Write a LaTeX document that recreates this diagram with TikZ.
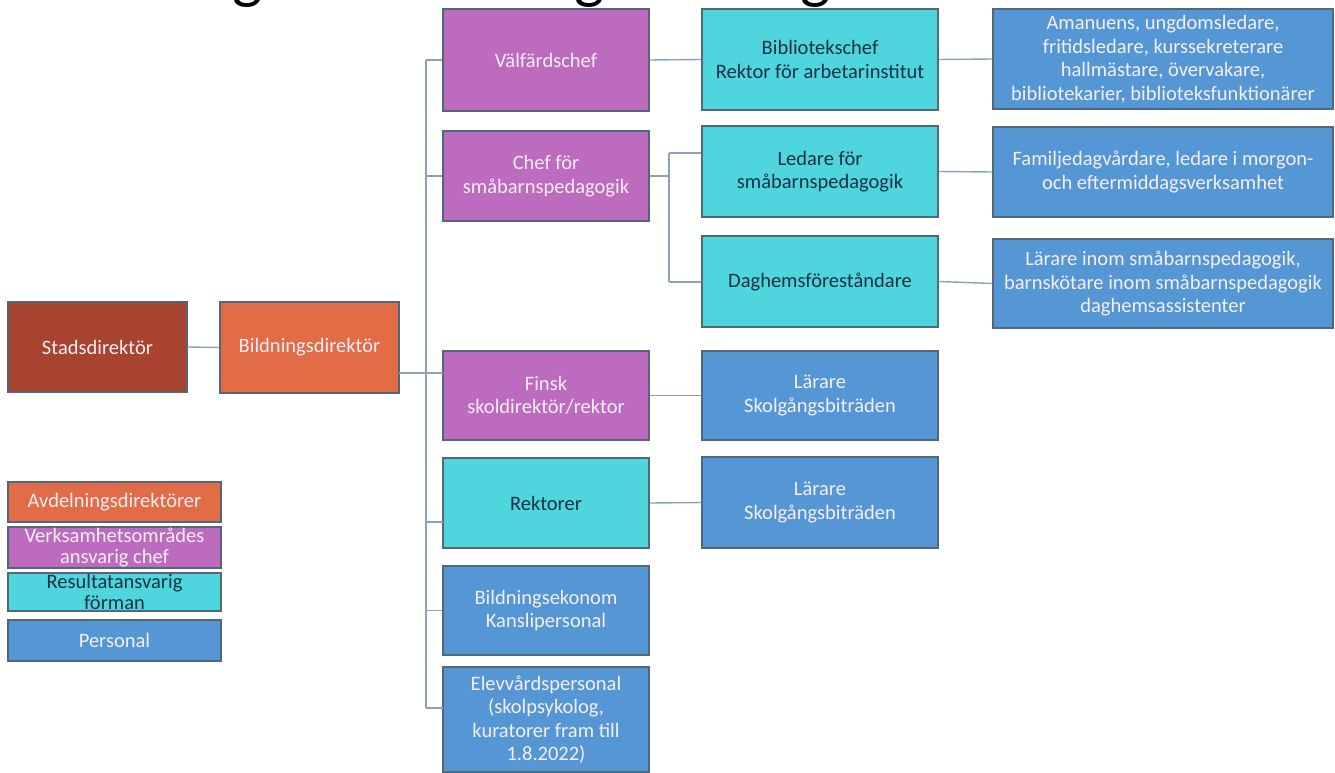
\documentclass[tikz,border=0pt]{standalone}
\usepackage{fontspec}
\setmainfont{Carlito}
\definecolor{cRed}{HTML}{A8432F}
\definecolor{cOrange}{HTML}{E26C45}
\definecolor{cPurple}{HTML}{BD6BBF}
\definecolor{cCyan}{HTML}{4ED5DD}
\definecolor{cBlue}{HTML}{5497D4}
\definecolor{cBorder}{HTML}{53677A}
\definecolor{cLine}{HTML}{8AA3B8}
\definecolor{cLight}{HTML}{F6EEF6}
\definecolor{cDark}{HTML}{1A3142}
\begin{document}
\begin{tikzpicture}[x=1pt,y=-1pt,
  box/.style={draw=cBorder, line width=1.1pt, inner sep=0pt, align=center,
    font=\fontsize{20.5pt}{23.5pt}\selectfont},
  legbox/.style={box, minimum width=213pt, font=\fontsize{20.5pt}{21pt}\selectfont},
  redbox/.style={box, fill=cRed, text=cLight},
  orangebox/.style={box, fill=cOrange, text=cLight},
  purplebox/.style={box, fill=cPurple, text=cLight},
  cyanbox/.style={box, fill=cCyan, text=cDark},
  bluebox/.style={box, fill=cBlue, text=cLight},
  midcol/.style={minimum width=206pt},
  subcol/.style={minimum width=236pt},
  rightcol/.style={minimum width=340pt},
  conn/.style={draw=cLine, line width=1.4pt},
  titlefont/.style={font=\fontsize{64pt}{70pt}\selectfont, inner sep=0pt, text=black}]
\path[use as bounding box, fill=white] (0,0) rectangle (1335,773);
\clip (0,0) rectangle (1335,773);

% cut-off title glyphs
\node[titlefont, anchor=south] (t1) at (248,8) {g};
\node[titlefont, anchor=south] (t2) at (590,8) {g};
\node[titlefont, anchor=south] (t3) at (816,8) {g};

% left
\node[redbox, minimum width=179pt, minimum height=90pt] (stad) at (97.5,347) {Stadsdirektör};
\node[orangebox, minimum width=179pt, minimum height=91pt] (bild) at (309.5,347.5) {Bildningsdirektör};

% middle column
\node[purplebox, midcol, minimum height=102pt] (valf) at (546,60) {Välfärdschef};
\node[purplebox, midcol, minimum height=90pt] (chef) at (546,176) {Chef för\\småbarnspedagogik};
\node[purplebox, midcol, minimum height=89pt] (finsk) at (546,395.5) {Finsk\\skoldirektör/rektor};
\node[cyanbox, midcol, minimum height=90pt] (rekt) at (546,503) {Rektorer};
\node[bluebox, midcol, minimum height=89pt] (ekon) at (546,610.5) {Bildningsekonom\\Kanslipersonal};
\node[bluebox, midcol, minimum height=105pt] (elev) at (546,719.5) {Elevvårdspersonal\\(skolpsykolog,\\kuratorer fram till\\1.8.2022)};

% sub column
\node[cyanbox, subcol, minimum height=101pt] (bibl) at (820,59.5) {Bibliotekschef\\Rektor för arbetarinstitut};
\node[cyanbox, subcol, minimum height=91pt] (ledare) at (820,171.5) {Ledare för\\småbarnspedagogik};
\node[cyanbox, subcol, minimum height=91pt] (dagh) at (820,281.5) {Daghemsföreståndare};
\node[bluebox, subcol, minimum height=89pt] (lar1) at (820,395.5) {Lärare\\Skolgångsbiträden};
\node[bluebox, subcol, minimum height=91pt] (lar2) at (820,502.5) {Lärare\\Skolgångsbiträden};

% right column
\node[bluebox, rightcol, minimum height=100pt] (aman) at (1163,59) {Amanuens, ungdomsledare,\\fritidsledare, kurssekreterare\\hallmästare, övervakare,\\bibliotekarier, biblioteksfunktionärer};
\node[bluebox, rightcol, minimum height=90pt] (famil) at (1163,172) {Familjedagvårdare, ledare i morgon-\\och eftermiddagsverksamhet};
\node[bluebox, rightcol, minimum height=89pt] (larinom) at (1163,283.5) {Lärare inom småbarnspedagogik,\\barnskötare inom småbarnspedagogik\\daghemsassistenter};

% legend
\node[legbox, fill=cOrange, text=cLight, minimum height=40pt] (leg1) at (114.5,502) {Avdelningsdirektörer};
\node[legbox, fill=cPurple, text=cLight, minimum height=41pt] (leg2) at (114.5,547.5) {Verksamhetsområdes\\ansvarig chef};
\node[legbox, fill=cCyan, text=cDark, minimum height=38pt] (leg3) at (114.5,592) {Resultatansvarig\\förman};
\node[legbox, fill=cBlue, text=cLight, minimum height=41pt] (leg4) at (114.5,640.5) {Personal};

% trunk coordinates
\coordinate (trtop) at (426,60);
\coordinate (trbot) at (426,708);
\coordinate (bildout) at (399,373);
\coordinate (finskin) at (443,373);
\coordinate (rektin) at (443,522);
\coordinate (elevin) at (443,708);
\coordinate (subtop) at (669,153);
\coordinate (subbot) at (669,282);

% connectors
\draw[conn] (stad.east) -- (bild.west);
\draw[conn] (bildout) -- (finskin);
\draw[conn] (trtop) -- (trbot);
\draw[conn] (trtop) -- (valf.west);
\draw[conn] (trtop|-chef.west) -- (chef.west);
\draw[conn] (trtop|-rektin) -- (rektin);
\draw[conn] (trtop|-ekon.west) -- (ekon.west);
\draw[conn] (trbot) -- (elevin);

\draw[conn] (valf.east) -- (bibl.west);
\draw[conn] (chef.east) -- (subtop|-chef.east);
\draw[conn] (subtop) -- (subbot);
\draw[conn] (subtop) -- (ledare.west|-subtop);
\draw[conn] (subbot) -- (dagh.west|-subbot);
\draw[conn] (finsk.east) -- (lar1.west);
\draw[conn] (rekt.east) -- (lar2.west);

\draw[conn] (bibl.east) -- (aman.west);
\draw[conn] (ledare.east) -- (famil.west);
\draw[conn] (dagh.east) -- (larinom.west);
\end{tikzpicture}
\end{document}
